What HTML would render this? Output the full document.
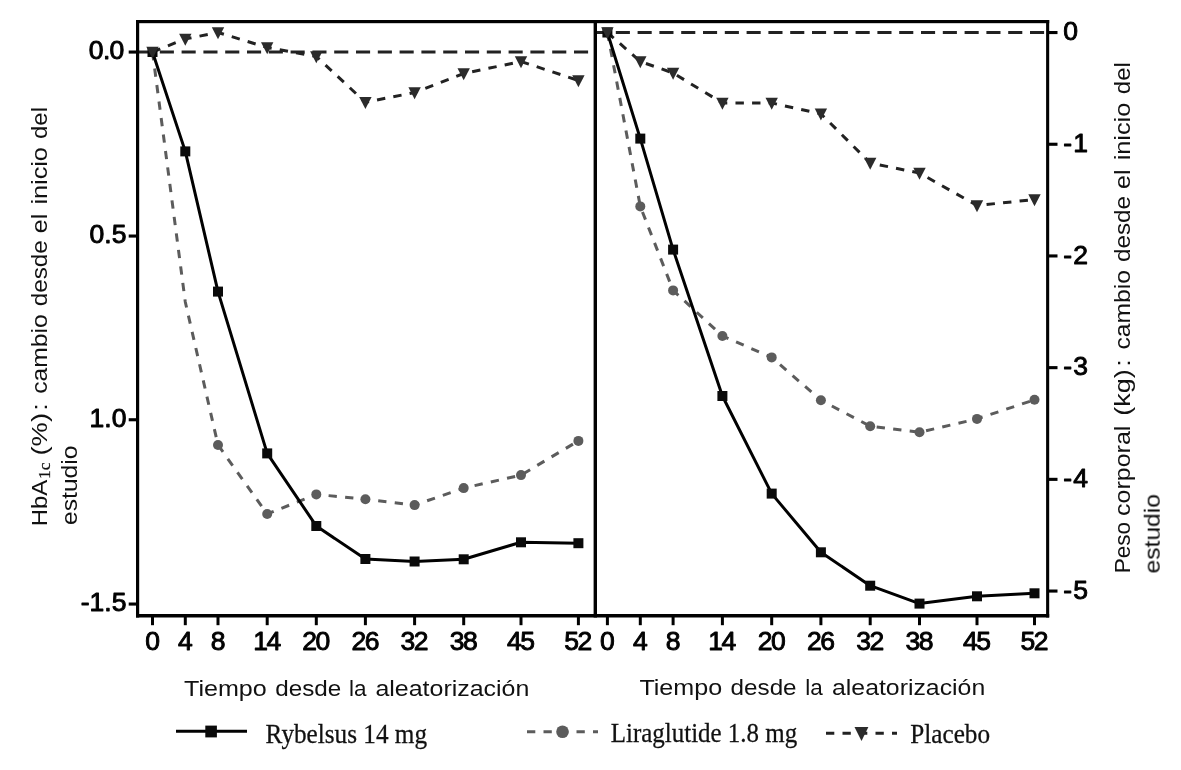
<!DOCTYPE html>
<html><head><meta charset="utf-8"><title>Chart</title>
<style>html,body{margin:0;padding:0;background:#fff;}body{width:1181px;height:770px;overflow:hidden;font-family:"Liberation Sans",sans-serif;}svg{display:block;}</style>
</head><body>
<svg width="1181" height="770" viewBox="0 0 1181 770">
<rect x="0" y="0" width="1181" height="770" fill="#ffffff"/>
<g opacity="0.999">
<line x1="138" y1="52" x2="593.6" y2="52" stroke="#222" stroke-width="3" stroke-dasharray="14.1 7.7"/>
<line x1="594" y1="32.5" x2="1046" y2="32.5" stroke="#222" stroke-width="3" stroke-dasharray="14.1 7.7"/>
<g id="left">
<polyline points="152.5,52.0 185.3,302.0 218.0,445.0 267.2,514.0 316.3,494.4 365.4,499.3 414.6,505.1 463.7,488.1 521.0,475.1 578.4,440.9" fill="none" stroke="#5c5c5c" stroke-width="3" stroke-dasharray="8.3 8.33"/>
<polyline points="152.5,52.0 185.3,38.9 218.0,32.5 267.2,47.5 316.3,56.5 365.4,102.3 414.6,92.5 463.7,73.5 521.0,61.5 578.4,80.5" fill="none" stroke="#222" stroke-width="3" stroke-dasharray="8.4 8.2"/>
<polyline points="152.5,52.0 185.3,151.4 218.0,291.6 267.2,453.4 316.3,526.0 365.4,559.0 414.6,561.5 463.7,559.3 521.0,542.3 578.4,543.2" fill="none" stroke="#000" stroke-width="3" stroke-linejoin="round"/>
<circle cx="218.0" cy="445.0" r="5" fill="#5c5c5c"/>
<circle cx="267.2" cy="514.0" r="5" fill="#5c5c5c"/>
<circle cx="316.3" cy="494.4" r="5" fill="#5c5c5c"/>
<circle cx="365.4" cy="499.3" r="5" fill="#5c5c5c"/>
<circle cx="414.6" cy="505.1" r="5" fill="#5c5c5c"/>
<circle cx="463.7" cy="488.1" r="5" fill="#5c5c5c"/>
<circle cx="521.0" cy="475.1" r="5" fill="#5c5c5c"/>
<circle cx="578.4" cy="440.9" r="5" fill="#5c5c5c"/>
<rect x="147.5" y="47.0" width="10" height="10" fill="#0a0a0a"/>
<rect x="180.3" y="146.4" width="10" height="10" fill="#0a0a0a"/>
<rect x="213.0" y="286.6" width="10" height="10" fill="#0a0a0a"/>
<rect x="262.2" y="448.4" width="10" height="10" fill="#0a0a0a"/>
<rect x="311.3" y="521.0" width="10" height="10" fill="#0a0a0a"/>
<rect x="360.4" y="554.0" width="10" height="10" fill="#0a0a0a"/>
<rect x="409.6" y="556.5" width="10" height="10" fill="#0a0a0a"/>
<rect x="458.7" y="554.3" width="10" height="10" fill="#0a0a0a"/>
<rect x="516.0" y="537.3" width="10" height="10" fill="#0a0a0a"/>
<rect x="573.4" y="538.2" width="10" height="10" fill="#0a0a0a"/>
<polygon points="146.3,46.8 158.7,46.8 152.5,58.8" fill="#2b2b2b"/>
<polygon points="179.1,33.7 191.5,33.7 185.3,45.7" fill="#2b2b2b"/>
<polygon points="211.8,27.3 224.2,27.3 218.0,39.3" fill="#2b2b2b"/>
<polygon points="261.0,42.3 273.4,42.3 267.2,54.3" fill="#2b2b2b"/>
<polygon points="310.1,51.3 322.5,51.3 316.3,63.3" fill="#2b2b2b"/>
<polygon points="359.2,97.1 371.6,97.1 365.4,109.1" fill="#2b2b2b"/>
<polygon points="408.4,87.3 420.8,87.3 414.6,99.3" fill="#2b2b2b"/>
<polygon points="457.5,68.3 469.9,68.3 463.7,80.3" fill="#2b2b2b"/>
<polygon points="514.8,56.3 527.2,56.3 521.0,68.3" fill="#2b2b2b"/>
<polygon points="572.2,75.3 584.6,75.3 578.4,87.3" fill="#2b2b2b"/>
</g>
<g id="right">
<polyline points="607.4,32.5 640.3,206.4 673.1,290.4 722.4,336.0 771.7,357.4 820.9,400.2 870.2,426.2 919.5,432.3 977.0,418.9 1034.5,399.8" fill="none" stroke="#5c5c5c" stroke-width="3" stroke-dasharray="8.3 8.33"/>
<polyline points="607.4,32.5 640.3,61.5 673.1,73.0 722.4,103.0 771.7,103.0 820.9,113.8 870.2,163.0 919.5,173.0 977.0,205.5 1034.5,199.5" fill="none" stroke="#222" stroke-width="3" stroke-dasharray="8.4 8.2"/>
<polyline points="607.4,32.5 640.3,138.6 673.1,249.6 722.4,396.0 771.7,493.6 820.9,552.3 870.2,585.7 919.5,603.6 977.0,596.3 1034.5,593.3" fill="none" stroke="#000" stroke-width="3" stroke-linejoin="round"/>
<circle cx="640.3" cy="206.4" r="5" fill="#5c5c5c"/>
<circle cx="673.1" cy="290.4" r="5" fill="#5c5c5c"/>
<circle cx="722.4" cy="336.0" r="5" fill="#5c5c5c"/>
<circle cx="771.7" cy="357.4" r="5" fill="#5c5c5c"/>
<circle cx="820.9" cy="400.2" r="5" fill="#5c5c5c"/>
<circle cx="870.2" cy="426.2" r="5" fill="#5c5c5c"/>
<circle cx="919.5" cy="432.3" r="5" fill="#5c5c5c"/>
<circle cx="977.0" cy="418.9" r="5" fill="#5c5c5c"/>
<circle cx="1034.5" cy="399.8" r="5" fill="#5c5c5c"/>
<rect x="602.4" y="27.5" width="10" height="10" fill="#0a0a0a"/>
<rect x="635.3" y="133.6" width="10" height="10" fill="#0a0a0a"/>
<rect x="668.1" y="244.6" width="10" height="10" fill="#0a0a0a"/>
<rect x="717.4" y="391.0" width="10" height="10" fill="#0a0a0a"/>
<rect x="766.7" y="488.6" width="10" height="10" fill="#0a0a0a"/>
<rect x="815.9" y="547.3" width="10" height="10" fill="#0a0a0a"/>
<rect x="865.2" y="580.7" width="10" height="10" fill="#0a0a0a"/>
<rect x="914.5" y="598.6" width="10" height="10" fill="#0a0a0a"/>
<rect x="972.0" y="591.3" width="10" height="10" fill="#0a0a0a"/>
<rect x="1029.5" y="588.3" width="10" height="10" fill="#0a0a0a"/>
<polygon points="601.2,27.3 613.6,27.3 607.4,39.3" fill="#2b2b2b"/>
<polygon points="634.1,56.3 646.5,56.3 640.3,68.3" fill="#2b2b2b"/>
<polygon points="666.9,67.8 679.3,67.8 673.1,79.8" fill="#2b2b2b"/>
<polygon points="716.2,97.8 728.6,97.8 722.4,109.8" fill="#2b2b2b"/>
<polygon points="765.5,97.8 777.9,97.8 771.7,109.8" fill="#2b2b2b"/>
<polygon points="814.7,108.6 827.1,108.6 820.9,120.6" fill="#2b2b2b"/>
<polygon points="864.0,157.8 876.4,157.8 870.2,169.8" fill="#2b2b2b"/>
<polygon points="913.3,167.8 925.7,167.8 919.5,179.8" fill="#2b2b2b"/>
<polygon points="970.8,200.3 983.2,200.3 977.0,212.3" fill="#2b2b2b"/>
<polygon points="1028.3,194.3 1040.7,194.3 1034.5,206.3" fill="#2b2b2b"/>
</g>
<g fill="#000">
<rect x="136" y="20" width="913.2" height="3.2"/>
<rect x="136" y="614" width="913.2" height="3.5"/>
<rect x="136" y="20" width="3.2" height="597.5"/>
<rect x="593.6" y="20" width="3.4" height="597.5"/>
<rect x="1046.1" y="20" width="3.1" height="597.5"/>
<rect x="128.7" y="50.5" width="8" height="3.1"/>
<rect x="128.7" y="234.5" width="8" height="3.1"/>
<rect x="128.7" y="418.2" width="8" height="3.1"/>
<rect x="128.7" y="602.5" width="8" height="3.1"/>
<rect x="1049" y="31.0" width="8.5" height="3.1"/>
<rect x="1049" y="142.7" width="8.5" height="3.1"/>
<rect x="1049" y="254.4" width="8.5" height="3.1"/>
<rect x="1049" y="366.1" width="8.5" height="3.1"/>
<rect x="1049" y="477.8" width="8.5" height="3.1"/>
<rect x="1049" y="589.5" width="8.5" height="3.1"/>
<rect x="151.0" y="617" width="3" height="8.2"/>
<rect x="605.9" y="617" width="3" height="8.2"/>
<rect x="183.8" y="617" width="3" height="8.2"/>
<rect x="638.8" y="617" width="3" height="8.2"/>
<rect x="216.5" y="617" width="3" height="8.2"/>
<rect x="671.6" y="617" width="3" height="8.2"/>
<rect x="265.7" y="617" width="3" height="8.2"/>
<rect x="720.9" y="617" width="3" height="8.2"/>
<rect x="314.8" y="617" width="3" height="8.2"/>
<rect x="770.2" y="617" width="3" height="8.2"/>
<rect x="363.9" y="617" width="3" height="8.2"/>
<rect x="819.4" y="617" width="3" height="8.2"/>
<rect x="413.1" y="617" width="3" height="8.2"/>
<rect x="868.7" y="617" width="3" height="8.2"/>
<rect x="462.2" y="617" width="3" height="8.2"/>
<rect x="918.0" y="617" width="3" height="8.2"/>
<rect x="519.5" y="617" width="3" height="8.2"/>
<rect x="975.5" y="617" width="3" height="8.2"/>
<rect x="576.9" y="617" width="3" height="8.2"/>
<rect x="1033.0" y="617" width="3" height="8.2"/>
</g>
<text x="123.6" y="59.3" text-anchor="end" letter-spacing="-0.7" font-family="Liberation Sans, sans-serif" font-size="26.5" fill="#000" stroke="#000" stroke-width="0.95" stroke-linejoin="round">0.0</text>
<text x="126.4" y="243.3" text-anchor="end" font-family="Liberation Sans, sans-serif" font-size="26.5" fill="#000" stroke="#000" stroke-width="0.95" stroke-linejoin="round">0.5</text>
<text x="126.4" y="427.0" text-anchor="end" font-family="Liberation Sans, sans-serif" font-size="26.5" fill="#000" stroke="#000" stroke-width="0.95" stroke-linejoin="round">1.0</text>
<text x="126.4" y="611.3" text-anchor="end" font-family="Liberation Sans, sans-serif" font-size="26.5" fill="#000" stroke="#000" stroke-width="0.95" stroke-linejoin="round">-1.5</text>
<text x="1063.3" y="40.2" font-family="Liberation Sans, sans-serif" font-size="26.5" fill="#000" stroke="#000" stroke-width="0.95" stroke-linejoin="round">0</text>
<text x="1063.3" y="151.9" letter-spacing="1.2" font-family="Liberation Sans, sans-serif" font-size="26.5" fill="#000" stroke="#000" stroke-width="0.95" stroke-linejoin="round">-1</text>
<text x="1063.3" y="263.6" letter-spacing="1.2" font-family="Liberation Sans, sans-serif" font-size="26.5" fill="#000" stroke="#000" stroke-width="0.95" stroke-linejoin="round">-2</text>
<text x="1063.3" y="375.3" letter-spacing="1.2" font-family="Liberation Sans, sans-serif" font-size="26.5" fill="#000" stroke="#000" stroke-width="0.95" stroke-linejoin="round">-3</text>
<text x="1063.3" y="487.0" letter-spacing="1.2" font-family="Liberation Sans, sans-serif" font-size="26.5" fill="#000" stroke="#000" stroke-width="0.95" stroke-linejoin="round">-4</text>
<text x="1063.3" y="598.7" letter-spacing="1.2" font-family="Liberation Sans, sans-serif" font-size="26.5" fill="#000" stroke="#000" stroke-width="0.95" stroke-linejoin="round">-5</text>
<text x="152.5" y="650.2" text-anchor="middle" font-family="Liberation Sans, sans-serif" font-size="26.5" fill="#000" stroke="#000" stroke-width="0.95" stroke-linejoin="round">0</text>
<text x="607.4" y="650.2" text-anchor="middle" font-family="Liberation Sans, sans-serif" font-size="26.5" fill="#000" stroke="#000" stroke-width="0.95" stroke-linejoin="round">0</text>
<text x="185.3" y="650.2" text-anchor="middle" font-family="Liberation Sans, sans-serif" font-size="26.5" fill="#000" stroke="#000" stroke-width="0.95" stroke-linejoin="round">4</text>
<text x="640.3" y="650.2" text-anchor="middle" font-family="Liberation Sans, sans-serif" font-size="26.5" fill="#000" stroke="#000" stroke-width="0.95" stroke-linejoin="round">4</text>
<text x="218.0" y="650.2" text-anchor="middle" font-family="Liberation Sans, sans-serif" font-size="26.5" fill="#000" stroke="#000" stroke-width="0.95" stroke-linejoin="round">8</text>
<text x="673.1" y="650.2" text-anchor="middle" font-family="Liberation Sans, sans-serif" font-size="26.5" fill="#000" stroke="#000" stroke-width="0.95" stroke-linejoin="round">8</text>
<text x="266.4" y="650.2" text-anchor="middle" letter-spacing="-1.5" font-family="Liberation Sans, sans-serif" font-size="26.5" fill="#000" stroke="#000" stroke-width="0.95" stroke-linejoin="round">14</text>
<text x="721.6" y="650.2" text-anchor="middle" letter-spacing="-1.5" font-family="Liberation Sans, sans-serif" font-size="26.5" fill="#000" stroke="#000" stroke-width="0.95" stroke-linejoin="round">14</text>
<text x="315.5" y="650.2" text-anchor="middle" letter-spacing="-1.5" font-family="Liberation Sans, sans-serif" font-size="26.5" fill="#000" stroke="#000" stroke-width="0.95" stroke-linejoin="round">20</text>
<text x="770.9" y="650.2" text-anchor="middle" letter-spacing="-1.5" font-family="Liberation Sans, sans-serif" font-size="26.5" fill="#000" stroke="#000" stroke-width="0.95" stroke-linejoin="round">20</text>
<text x="364.7" y="650.2" text-anchor="middle" letter-spacing="-1.5" font-family="Liberation Sans, sans-serif" font-size="26.5" fill="#000" stroke="#000" stroke-width="0.95" stroke-linejoin="round">26</text>
<text x="820.2" y="650.2" text-anchor="middle" letter-spacing="-1.5" font-family="Liberation Sans, sans-serif" font-size="26.5" fill="#000" stroke="#000" stroke-width="0.95" stroke-linejoin="round">26</text>
<text x="413.8" y="650.2" text-anchor="middle" letter-spacing="-1.5" font-family="Liberation Sans, sans-serif" font-size="26.5" fill="#000" stroke="#000" stroke-width="0.95" stroke-linejoin="round">32</text>
<text x="869.5" y="650.2" text-anchor="middle" letter-spacing="-1.5" font-family="Liberation Sans, sans-serif" font-size="26.5" fill="#000" stroke="#000" stroke-width="0.95" stroke-linejoin="round">32</text>
<text x="463.0" y="650.2" text-anchor="middle" letter-spacing="-1.5" font-family="Liberation Sans, sans-serif" font-size="26.5" fill="#000" stroke="#000" stroke-width="0.95" stroke-linejoin="round">38</text>
<text x="918.7" y="650.2" text-anchor="middle" letter-spacing="-1.5" font-family="Liberation Sans, sans-serif" font-size="26.5" fill="#000" stroke="#000" stroke-width="0.95" stroke-linejoin="round">38</text>
<text x="520.3" y="650.2" text-anchor="middle" letter-spacing="-1.5" font-family="Liberation Sans, sans-serif" font-size="26.5" fill="#000" stroke="#000" stroke-width="0.95" stroke-linejoin="round">45</text>
<text x="976.2" y="650.2" text-anchor="middle" letter-spacing="-1.5" font-family="Liberation Sans, sans-serif" font-size="26.5" fill="#000" stroke="#000" stroke-width="0.95" stroke-linejoin="round">45</text>
<text x="577.6" y="650.2" text-anchor="middle" letter-spacing="-1.5" font-family="Liberation Sans, sans-serif" font-size="26.5" fill="#000" stroke="#000" stroke-width="0.95" stroke-linejoin="round">52</text>
<text x="1033.7" y="650.2" text-anchor="middle" letter-spacing="-1.5" font-family="Liberation Sans, sans-serif" font-size="26.5" fill="#000" stroke="#000" stroke-width="0.95" stroke-linejoin="round">52</text>
<text x="184.0" y="696.3" textLength="82.8" lengthAdjust="spacingAndGlyphs" font-family="Liberation Sans, sans-serif" font-size="22.5" fill="#111">Tiempo</text>
<text x="275.2" y="696.3" textLength="66.0" lengthAdjust="spacingAndGlyphs" font-family="Liberation Sans, sans-serif" font-size="22.5" fill="#111">desde</text>
<text x="349.0" y="696.3" textLength="17.5" lengthAdjust="spacingAndGlyphs" font-family="Liberation Sans, sans-serif" font-size="22.5" fill="#111">la</text>
<text x="375.4" y="696.3" textLength="154.0" lengthAdjust="spacingAndGlyphs" font-family="Liberation Sans, sans-serif" font-size="22.5" fill="#111">aleatorización</text>
<text x="639.4" y="695.2" textLength="82.8" lengthAdjust="spacingAndGlyphs" font-family="Liberation Sans, sans-serif" font-size="22.5" fill="#111">Tiempo</text>
<text x="730.6" y="695.2" textLength="66.0" lengthAdjust="spacingAndGlyphs" font-family="Liberation Sans, sans-serif" font-size="22.5" fill="#111">desde</text>
<text x="805.2" y="695.2" textLength="17.5" lengthAdjust="spacingAndGlyphs" font-family="Liberation Sans, sans-serif" font-size="22.5" fill="#111">la</text>
<text x="832.0" y="695.2" textLength="153.2" lengthAdjust="spacingAndGlyphs" font-family="Liberation Sans, sans-serif" font-size="22.5" fill="#111">aleatorización</text>
<text transform="translate(46.6,526.3) rotate(-90)" x="0" y="0" textLength="46.5" lengthAdjust="spacingAndGlyphs" font-family="Liberation Sans, sans-serif" font-size="22.5" fill="#111">HbA</text>
<text transform="translate(46.6,455.5) rotate(-90)" x="0" y="0" textLength="42.5" lengthAdjust="spacingAndGlyphs" font-family="Liberation Sans, sans-serif" font-size="22.5" fill="#111">(%)</text>
<text transform="translate(46.6,410.5) rotate(-90)" x="0" y="0" textLength="7.0" lengthAdjust="spacingAndGlyphs" font-family="Liberation Sans, sans-serif" font-size="22.5" fill="#111">:</text>
<text transform="translate(46.6,393.8) rotate(-90)" x="0" y="0" textLength="79.5" lengthAdjust="spacingAndGlyphs" font-family="Liberation Sans, sans-serif" font-size="22.5" fill="#111">cambio</text>
<text transform="translate(46.6,306.3) rotate(-90)" x="0" y="0" textLength="66.0" lengthAdjust="spacingAndGlyphs" font-family="Liberation Sans, sans-serif" font-size="22.5" fill="#111">desde</text>
<text transform="translate(46.6,233.3) rotate(-90)" x="0" y="0" textLength="19.5" lengthAdjust="spacingAndGlyphs" font-family="Liberation Sans, sans-serif" font-size="22.5" fill="#111">el</text>
<text transform="translate(46.6,204.6) rotate(-90)" x="0" y="0" textLength="57.5" lengthAdjust="spacingAndGlyphs" font-family="Liberation Sans, sans-serif" font-size="22.5" fill="#111">inicio</text>
<text transform="translate(46.6,139.0) rotate(-90)" x="0" y="0" textLength="32.0" lengthAdjust="spacingAndGlyphs" font-family="Liberation Sans, sans-serif" font-size="22.5" fill="#111">del</text>
<text transform="translate(50.3,479) rotate(-90)" x="0" y="0" font-family="Liberation Serif, serif" font-size="17.5" fill="#111" stroke="#111" stroke-width="0.25">1c</text>
<text transform="translate(76.9,525.0) rotate(-90)" x="0" y="0" textLength="79.5" lengthAdjust="spacingAndGlyphs" font-family="Liberation Sans, sans-serif" font-size="22.5" fill="#111">estudio</text>
<text transform="translate(1129.9,573.3) rotate(-90)" x="0" y="0" textLength="51.5" lengthAdjust="spacingAndGlyphs" font-family="Liberation Sans, sans-serif" font-size="22.5" fill="#111">Peso</text>
<text transform="translate(1129.9,515.9) rotate(-90)" x="0" y="0" textLength="90.3" lengthAdjust="spacingAndGlyphs" font-family="Liberation Sans, sans-serif" font-size="22.5" fill="#111">corporal</text>
<text transform="translate(1129.9,415.8) rotate(-90)" x="0" y="0" textLength="46.5" lengthAdjust="spacingAndGlyphs" font-family="Liberation Sans, sans-serif" font-size="22.5" fill="#111">(kg)</text>
<text transform="translate(1129.9,366.5) rotate(-90)" x="0" y="0" textLength="7.0" lengthAdjust="spacingAndGlyphs" font-family="Liberation Sans, sans-serif" font-size="22.5" fill="#111">:</text>
<text transform="translate(1129.9,349.5) rotate(-90)" x="0" y="0" textLength="79.5" lengthAdjust="spacingAndGlyphs" font-family="Liberation Sans, sans-serif" font-size="22.5" fill="#111">cambio</text>
<text transform="translate(1129.9,262.0) rotate(-90)" x="0" y="0" textLength="66.0" lengthAdjust="spacingAndGlyphs" font-family="Liberation Sans, sans-serif" font-size="22.5" fill="#111">desde</text>
<text transform="translate(1129.9,189.0) rotate(-90)" x="0" y="0" textLength="19.5" lengthAdjust="spacingAndGlyphs" font-family="Liberation Sans, sans-serif" font-size="22.5" fill="#111">el</text>
<text transform="translate(1129.9,160.3) rotate(-90)" x="0" y="0" textLength="57.5" lengthAdjust="spacingAndGlyphs" font-family="Liberation Sans, sans-serif" font-size="22.5" fill="#111">inicio</text>
<text transform="translate(1129.9,94.2) rotate(-90)" x="0" y="0" textLength="32.0" lengthAdjust="spacingAndGlyphs" font-family="Liberation Sans, sans-serif" font-size="22.5" fill="#111">del</text>
<text transform="translate(1159.7,573.5) rotate(-90)" x="0" y="0" textLength="79.5" lengthAdjust="spacingAndGlyphs" font-family="Liberation Sans, sans-serif" font-size="22.5" fill="#111">estudio</text>
<line x1="176" y1="731.3" x2="247" y2="731.3" stroke="#000" stroke-width="3"/>
<rect x="205.3" y="725.6" width="11.6" height="11.8" fill="#0a0a0a"/>
<text transform="translate(265.6,743.1) scale(1.008,1.075)" x="0" y="0" font-family="Liberation Serif, serif" font-size="25" fill="#111" stroke="#111" stroke-width="0.25">Rybelsus 14 mg</text>
<line x1="527" y1="731.7" x2="598" y2="731.7" stroke="#5c5c5c" stroke-width="3" stroke-dasharray="8.3 8.2"/>
<circle cx="562.5" cy="731.7" r="6.3" fill="#5c5c5c"/>
<text transform="translate(610.8,742.4) scale(0.998,1.065)" x="0" y="0" font-family="Liberation Serif, serif" font-size="25" fill="#111" stroke="#111" stroke-width="0.25">Liraglutide 1.8 mg</text>
<line x1="826" y1="733.2" x2="897" y2="733.2" stroke="#222" stroke-width="3" stroke-dasharray="8.3 8.2"/>
<polygon points="854.5,727 868.4,727 861.5,741" fill="#2b2b2b"/>
<text transform="translate(910.3,743.1) scale(1.008,1.075)" x="0" y="0" font-family="Liberation Serif, serif" font-size="25" fill="#111" stroke="#111" stroke-width="0.25">Placebo</text>
</g>
</svg>
</body></html>
